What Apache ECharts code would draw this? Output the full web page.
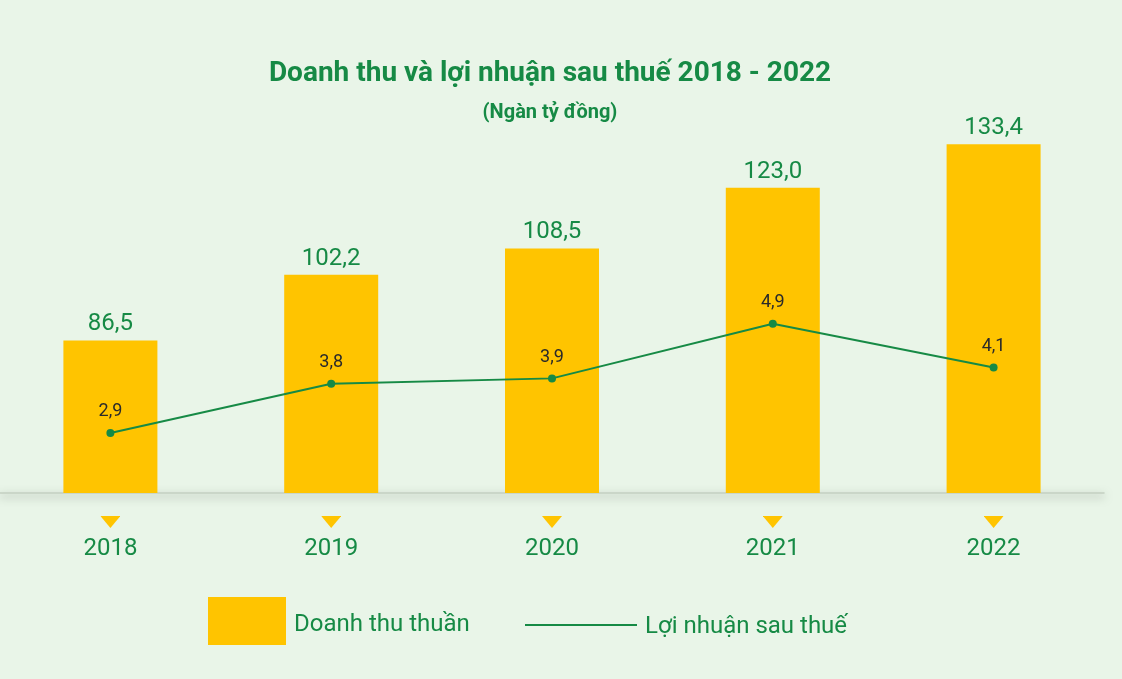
<!DOCTYPE html>
<html>
<head>
<meta charset="utf-8">
<script src="https://cdn.jsdelivr.net/npm/echarts@6/dist/echarts.min.js"></script>
<style>
html,body{margin:0;padding:0;background:#e9f5e8;}
#c{width:1122px;height:679px;}
</style>
</head>
<body>
<div id="c"></div>
<script>
const categories = ['2018', '2019', '2020', '2021', '2022'];
const revenue = [86.5, 102.2, 108.5, 123.0, 133.4];
const profit = [2.9, 3.8, 3.9, 4.9, 4.1];
const titleText = 'Doanh thu và lợi nhuận sau thuế 2018 - 2022';
const subtitleText = '(Ngàn tỷ đồng)';
const seriesNames = ['Doanh thu thuần', 'Lợi nhuận sau thuế'];

const GREEN = '#168a45';
const YELLOW = '#ffc400';
const FONT = 'Roboto, "Noto Sans", sans-serif';
const tri = 'data:image/svg+xml;utf8,' + encodeURIComponent(
  '<svg xmlns="http://www.w3.org/2000/svg" width="20" height="12" viewBox="0 0 20 12"><path d="M0 0 L20 0 L10 12 Z" fill="#ffc400"/></svg>');
const fmt = v => Number(v).toFixed(1).replace('.', ',');

const legendText = (sp) => ({
  color: GREEN, fontSize: 24, fontFamily: FONT,
  rich: {
    s: {fontSize: 1, lineHeight: sp, height: sp},
    a: {color: GREEN, fontSize: 24, fontFamily: FONT, lineHeight: 28, padding: [0, 0, 0, 3]}
  }
});

const chart = echarts.init(document.getElementById('c'), null, {renderer: 'canvas'});
chart.setOption({
  backgroundColor: '#e9f5e8',
  textStyle: {fontFamily: FONT},
  title: {
    text: titleText,
    subtext: subtitleText,
    left: 550,
    textAlign: 'center',
    top: 57,
    padding: 0,
    itemGap: 10,
    textStyle: {color: GREEN, fontSize: 28, fontWeight: 'bold', fontFamily: FONT, lineHeight: 34},
    subtextStyle: {color: GREEN, fontSize: 20, fontWeight: 'bold', fontFamily: FONT, lineHeight: 24}
  },
  legend: [
    {
      data: [{name: seriesNames[0], icon: 'rect'}],
      left: 208, top: 597, padding: 0,
      itemWidth: 78, itemHeight: 48,
      formatter: n => '{s|\u200b}\n{a|' + n + '}',
      textStyle: legendText(8),
      selectedMode: false
    },
    {
      data: [{name: seriesNames[1], icon: 'rect'}],
      left: 525, top: 609, padding: 0,
      itemWidth: 112, itemHeight: 2,
      formatter: n => '{s|\u200b}\n{a|' + n + '}',
      textStyle: legendText(4),
      selectedMode: false
    }
  ],
  grid: {left: 0, right: 18, top: 100, bottom: 186},
  xAxis: {
    type: 'category',
    data: categories,
    axisTick: {show: false},
    axisLine: {
      show: true,
      lineStyle: {color: '#c4cfc1', width: 1.5, shadowColor: 'rgba(50,60,50,0.55)', shadowBlur: 8, shadowOffsetY: 3}
    },
    axisLabel: {
      margin: 23,
      formatter: v => '{t|}\n{y|' + v + '}',
      rich: {
        t: {width: 20, height: 12, backgroundColor: {image: tri}, align: 'center'},
        y: {color: GREEN, fontSize: 24, fontFamily: FONT, padding: [14, 0, 0, 0], lineHeight: 28}
      }
    }
  },
  yAxis: [
    {type: 'value', min: 50, max: 144, show: false, splitLine: {show: false}},
    {type: 'value', min: 1.8, max: 9.0, show: false, splitLine: {show: false}}
  ],
  series: [
    {
      name: seriesNames[0],
      type: 'bar',
      data: revenue,
      barWidth: 94,
      itemStyle: {color: YELLOW},
      label: {show: true, position: 'top', distance: 4, color: GREEN, fontSize: 24, fontFamily: FONT, formatter: p => fmt(p.value)},
      z: 2
    },
    {
      name: seriesNames[1],
      type: 'line',
      yAxisIndex: 1,
      data: profit,
      symbol: 'circle',
      symbolSize: 8,
      lineStyle: {color: GREEN, width: 2},
      itemStyle: {color: GREEN},
      label: {show: true, position: 'top', distance: 8, color: '#2a2a2a', fontSize: 18, fontFamily: FONT, formatter: p => fmt(p.value)},
      z: 3
    }
  ],
  animation: false
});
</script>
</body>
</html>
